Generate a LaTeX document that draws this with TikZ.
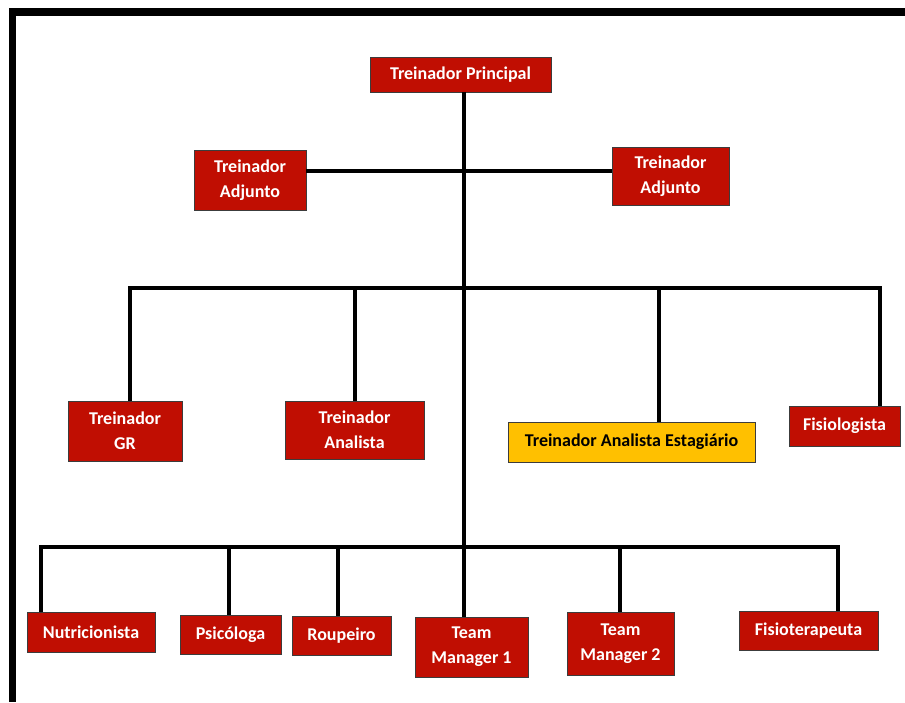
\documentclass[tikz,border=0pt]{standalone}
\usepackage{fontspec}
\setmainfont{Carlito}
\definecolor{boxred}{RGB}{192,14,2}
\definecolor{boxyellow}{RGB}{255,192,0}
\definecolor{boxedge}{RGB}{60,60,60}
\newcommand\orgbox[7]{\node[#7, minimum width={(#4-#2)*0.75pt}, minimum height={(#5-#3)*0.75pt}] (#1) at ({(#2+#4)/2},{(#3+#5)/2}) {#6};}
\begin{document}
\begin{tikzpicture}[x=0.75pt,y=-0.75pt,
  base/.style={rectangle, draw=boxedge, line width=0.7pt, inner sep=0pt, align=center,
    font=\fontsize{13.5}{18.75}\selectfont\bfseries},
  redbox/.style={base, fill=boxred, text=white},
  yelbox/.style={base, fill=boxyellow, text=black},
  link/.style={line width=2.3pt, black, line cap=butt, line join=miter}]
\useasboundingbox (0,0) rectangle (905,702);
\fill[white] (0,0) rectangle (905,702);
% frame
\fill[black] (8.5,8.5) rectangle (905,16);
\fill[black] (8.5,8.5) rectangle (16,702);
% boxes
\orgbox{tp}{370}{57}{551}{92}{Treinador Principal}{redbox}
\orgbox{adl}{194}{150}{306}{210}{Treinador\\Adjunto}{redbox}
\orgbox{adr}{612}{147}{729}{205}{Treinador\\Adjunto}{redbox}
\orgbox{gr}{68}{401}{182}{461}{Treinador\\GR}{redbox}
\orgbox{an}{285}{401}{424}{459}{Treinador\\Analista}{redbox}
\orgbox{est}{508}{422}{755}{462}{Treinador Analista Estagiário}{yelbox}
\orgbox{fsl}{789}{406}{900}{446}{Fisiologista}{redbox}
\orgbox{nut}{27}{612}{155}{652}{Nutricionista}{redbox}
\orgbox{psi}{180}{615}{281}{654}{Psicóloga}{redbox}
\orgbox{rou}{292}{616}{391}{655}{Roupeiro}{redbox}
\orgbox{tm1}{415}{617}{528}{677}{Team\\Manager 1}{redbox}
\orgbox{tm2}{567}{612}{674}{675}{Team\\Manager 2}{redbox}
\orgbox{fst}{739}{611}{878}{650}{Fisioterapeuta}{redbox}
% bus coordinates
\coordinate (ha) at (464,171);
\coordinate (b1) at (464,288);
\coordinate (b2) at (464,547);
\coordinate (xgr) at (130,288);
\coordinate (xan) at (355,288);
\coordinate (xest) at (659,288);
\coordinate (xfsl) at (880,288);
\coordinate (xnut) at (41,547);
\coordinate (xpsi) at (229,547);
\coordinate (xrou) at (338,547);
\coordinate (xtm2) at (620,547);
\coordinate (xfst) at (838,547);
% connectors
\draw[link] (tp.south -| b1) -- (b2);
\draw[link] (adl.east |- ha) -- (adr.west |- ha);
\draw[link] (gr.north -| xgr) -- (xgr) -- (xfsl) -- (fsl.north -| xfsl);
\draw[link] (xan) -- (an.north -| xan);
\draw[link] (xest) -- (est.north -| xest);
\draw[link] (nut.north -| xnut) -- (xnut) -- (xfst) -- (fst.north -| xfst);
\draw[link] (xpsi) -- (psi.north -| xpsi);
\draw[link] (xrou) -- (rou.north -| xrou);
\draw[link] (b2) -- (tm1.north -| b2);
\draw[link] (xtm2) -- (tm2.north -| xtm2);
\end{tikzpicture}
\end{document}
